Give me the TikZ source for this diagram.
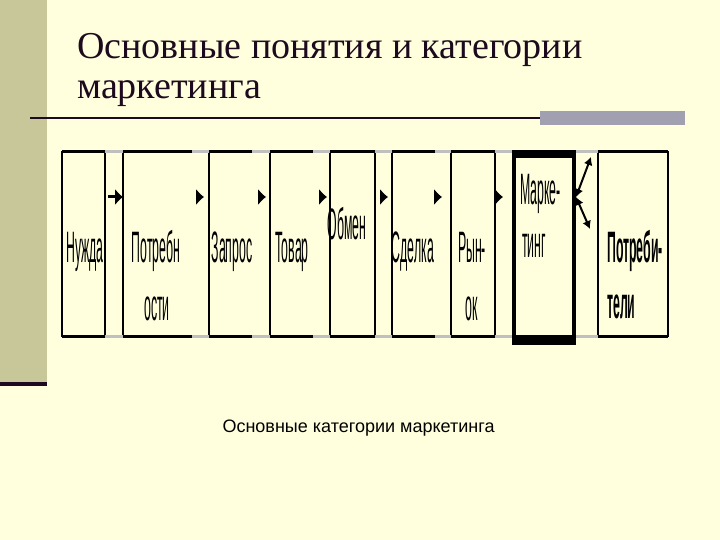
\documentclass[tikz,border=0pt]{standalone}
\usepackage{fontspec}
\setmainfont{Liberation Serif}
\setsansfont{Liberation Sans}
\usetikzlibrary{positioning}
\usetikzlibrary{calc}
\usetikzlibrary{arrows.meta}
\newfontfamily\catfamily[FakeStretch=0.28]{Liberation Sans}
\definecolor{slidebg}{RGB}{255, 255, 222}
\definecolor{stripcolor}{RGB}{199, 199, 153}
\definecolor{titlecolor}{RGB}{30, 10, 30}
\definecolor{barcolor}{RGB}{160, 160, 176}
\definecolor{shadowcolor}{RGB}{192, 192, 192}
\tikzstyle{catbox} = [draw=black, line width=1.2pt, inner sep=0pt, outer sep=0pt, minimum height=184pt]
\tikzstyle{keybox} = [draw=black, line width=4pt, inner sep=0pt, outer sep=0pt, minimum width=60pt, minimum height=186pt]
\tikzstyle{catlabel} = [inner sep=0pt, anchor=base, font=\catfamily\fontsize{44}{44}\selectfont]
\tikzstyle{edgeline} = [line width=3pt, black]
\tikzstyle{edgeshadow} = [line width=3pt, shadowcolor]
\tikzstyle{catarrow} = [-{Latex[length=8pt, width=17pt]}, line width=3pt, black]
\tikzstyle{duoarrow} = [{Latex[length=8pt, width=9pt]}-{Latex[length=8pt, width=9pt]}, line width=2pt, black]

\begin{document}
\begin{tikzpicture}[x=1pt, y=-1pt]

		%
		% Slide background
		\fill [slidebg] (0,0) rectangle (720,540);
		\fill [stripcolor] (0,0) rectangle (47,382);
		\fill [titlecolor] (0,382) rectangle (47,386);
		
		% Title
		\node [font=\fontsize{38}{38}\selectfont, titlecolor, anchor=base west, inner sep=0pt] at (77,59) (title1) {Основные понятия и категории};
		\node [font=\fontsize{38}{38}\selectfont, titlecolor, anchor=base west, inner sep=0pt] at (77,99) (title2) {маркетинга};
		\draw [titlecolor, line width=2pt] (30,118) -- (540,118);
		\fill [barcolor] (540,111) rectangle (685,125);
		
		%
		% Category boxes
		\node [catbox, minimum width=43pt] at (83.5,244) (nuzhda) {};
		\node [catbox, minimum width=86pt, right=18pt of nuzhda] (potrebnosti) {};
		\node [catbox, minimum width=61pt, right=0pt of potrebnosti] (zapros) {};
		\node [catbox, minimum width=60pt, right=0pt of zapros] (tovar) {};
		\node [catbox, minimum width=45pt, right=0pt of tovar] (obmen) {};
		\node [catbox, minimum width=59pt, right=17pt of obmen] (sdelka) {};
		\node [catbox, minimum width=44pt, right=0pt of sdelka] (rynok) {};
		\node [keybox, right=19pt of rynok, yshift=-3pt] (marketing) {};
		\node [catbox, minimum width=70pt, right=24pt of marketing, yshift=3pt] (potrebiteli) {};
		
		% Top and bottom edges
		\draw [edgeshadow] (nuzhda.north west) -- (potrebiteli.north east);
		\draw [edgeshadow] (nuzhda.south west) -- (potrebiteli.south east);
		\foreach \b/\c in {nuzhda/0, potrebnosti/17, zapros/18, tovar/17, obmen/0, sdelka/16, rynok/0, potrebiteli/0} {
			\draw [edgeline] (\b.north west) -- ([xshift=-\c pt]\b.north east);
			\draw [edgeline] (\b.south west) -- ([xshift=-\c pt]\b.south east);
		}
		\draw [line width=8pt] ([xshift=-2pt]marketing.north west) -- ([xshift=2pt]marketing.north east);
		\draw [line width=10pt] ([xshift=-2pt]marketing.south west) -- ([xshift=2pt]marketing.south east);
		
		%
		% Labels
		\node [catlabel] at ([xshift=1.5pt, yshift=-18pt]nuzhda.center) (l_nuzhda) {Нужда};
		\node [catlabel] at ([xshift=-10pt, yshift=-18pt]potrebnosti.center) (l_potrebnosti1) {Потребн};
		\node [catlabel] at ([xshift=-9pt, yshift=-76pt]potrebnosti.center) (l_potrebnosti2) {ости};
		\node [catlabel] at ([xshift=-7.5pt, yshift=-18pt]zapros.center) (l_zapros) {Запрос};
		\node [catlabel] at ([xshift=-8pt, yshift=-18pt]tovar.center) (l_tovar) {Товар};
		\node [catlabel] at ([xshift=-5.5pt, yshift=4pt]obmen.center) (l_obmen) {Обмен};
		\node [catlabel] at ([xshift=-8.5pt, yshift=-18pt]sdelka.center) (l_sdelka) {Сделка};
		\node [catlabel] at ([xshift=-1pt, yshift=-18pt]rynok.center) (l_rynok1) {Рын-};
		\node [catlabel] at ([xshift=-1pt, yshift=-76pt]rynok.center) (l_rynok2) {ок};
		\node [catlabel, anchor=base west] at ([xshift=6pt, yshift=42pt]marketing.west) (l_marketing1) {Марке-};
		\node [catlabel, anchor=base west] at ([xshift=8pt, yshift=-11pt]marketing.west) (l_marketing2) {тинг};
		\node [catlabel, anchor=base west, font=\catfamily\bfseries\fontsize{44}{44}\selectfont] at ([xshift=9pt, yshift=-18pt]potrebiteli.west) (l_potrebiteli1) {Потреби-};
		\node [catlabel, anchor=base west, font=\catfamily\bfseries\fontsize{44}{44}\selectfont] at ([xshift=9pt, yshift=-74pt]potrebiteli.west) (l_potrebiteli2) {тели};
		
		%
		% Arrows
		\coordinate (arrowrow) at ([yshift=47pt]nuzhda.center);
		\draw [catarrow] ([xshift=3pt]nuzhda.east |- arrowrow) -- (potrebnosti.west |- arrowrow);
		\draw [catarrow] ([xshift=-7pt]potrebnosti.east |- arrowrow) -- ([xshift=-5pt]potrebnosti.east |- arrowrow);
		\draw [catarrow] ([xshift=-6pt]zapros.east |- arrowrow) -- ([xshift=-4pt]zapros.east |- arrowrow);
		\draw [catarrow] ([xshift=-5pt]tovar.east |- arrowrow) -- ([xshift=-3pt]tovar.east |- arrowrow);
		\draw [catarrow] ([xshift=-6pt]sdelka.west |- arrowrow) -- ([xshift=-4pt]sdelka.west |- arrowrow);
		\draw [catarrow] ([xshift=-11pt]sdelka.east |- arrowrow) -- ([xshift=-9pt]sdelka.east |- arrowrow);
		\draw [catarrow] ([xshift=6pt]rynok.east |- arrowrow) -- ([xshift=8pt]rynok.east |- arrowrow);
		
		% Marketing <-> consumers
		\coordinate (fork) at ([xshift=2pt]marketing.east |- arrowrow);
		\coordinate (forkup) at ([xshift=15pt, yshift=40pt]fork);
		\coordinate (forkdown) at ([xshift=14pt, yshift=-32pt]fork);
		\draw [duoarrow] (fork) -- (forkup);
		\draw [duoarrow] (fork) -- (forkdown);
		
		%
		% Caption
		\node [font=\sffamily\fontsize{18}{18}\selectfont, anchor=base, inner sep=0pt] at (358.5,432) (caption) {Основные категории маркетинга};
	
\end{tikzpicture}
\end{document}
